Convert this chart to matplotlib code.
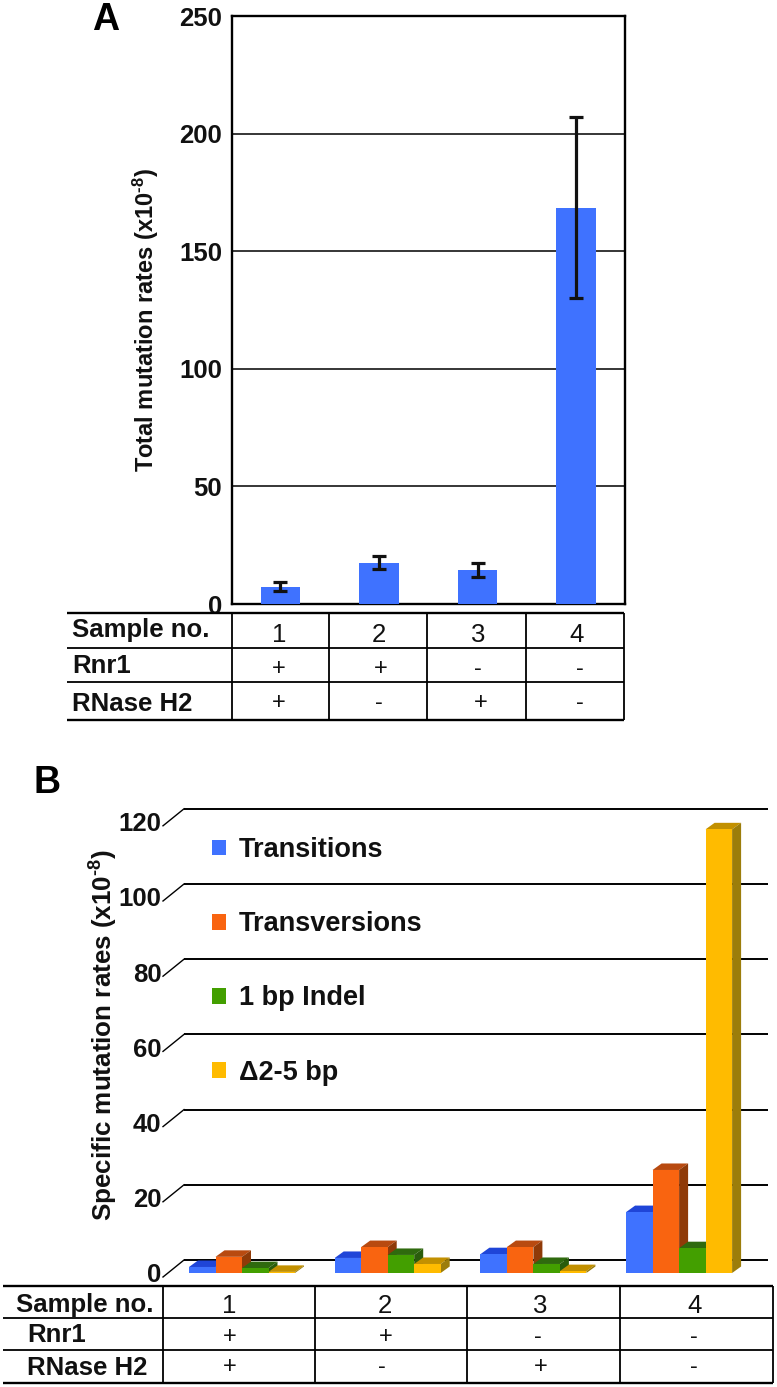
import matplotlib
matplotlib.use("Agg")
import matplotlib.pyplot as plt
from matplotlib.patches import Patch, Polygon

plt.rcParams['font.family'] = ['Liberation Sans', 'DejaVu Sans']
plt.rcParams['mathtext.fontset'] = 'custom'
plt.rcParams['mathtext.rm'] = 'Liberation Sans:bold'
plt.rcParams['mathtext.bf'] = 'Liberation Sans:bold'
plt.rcParams['mathtext.default'] = 'bf'

# ---------- data ----------
samples = [1, 2, 3, 4]
total_rates = [7.2, 17.4, 14.5, 168.5]
total_low = [5.5, 14.9, 11.5, 130.0]
total_high = [9.4, 20.4, 17.4, 207.0]

series_names = ['Transitions', 'Transversions', '1 bp Indel', '\u03942-5 bp']
transitions = [1.6, 4.0, 5.0, 16.2]
transversions = [4.3, 6.9, 6.9, 27.4]
indel_1bp = [1.3, 4.8, 2.4, 6.6]
deletion_2_5 = [0.3, 2.4, 0.5, 118.0]

row_names = ['Sample no.', 'Rnr1', 'RNase H2']
rnr1 = ['+', '+', '-', '-']
rnase_h2 = ['+', '-', '+', '-']

yticks_a = [0, 50, 100, 150, 200, 250]
yticks_b = [0, 20, 40, 60, 80, 100, 120]

# ---------- styles ----------
W, H = 777, 1387
BLUE = '#3f72ff'
front_cols = [BLUE, '#f96410', '#439f00', '#ffbb00']
top_cols = ['#1f45d8', '#b84a10', '#2f6a0e', '#c29000']
side_cols = ['#1b3bb0', '#8f3a08', '#2a5c0c', '#9c7d0a']


def px_axes(left, top, right, bottom):
    return fig.add_axes([left / W, 1 - bottom / H, (right - left) / W, (bottom - top) / H])


fig = plt.figure(figsize=(W / 100, H / 100), dpi=100, facecolor='white')

# ---------- overlay for tables and panel letters ----------
ov = fig.add_axes([0, 0, 1, 1], zorder=5)
ov.set_xlim(0, W)
ov.set_ylim(H, 0)
ov.axis('off')


def table(x_left, col_x, row_y, label_x, label_y, num_x, plus_x, num_y, rows_y):
    ov.hlines(row_y[0], x_left, col_x[-1], color='k', lw=1.7)
    ov.hlines(row_y[1:-1], x_left, col_x[-1], color='k', lw=1.3)
    ov.hlines(row_y[-1], x_left, col_x[-1], color='k', lw=1.7)
    ov.vlines(col_x, row_y[0], row_y[-1], color='k', lw=1.3)
    for name, lx, ly in zip(row_names, label_x, label_y):
        ov.text(lx, ly, name, fontsize=18.5, fontweight='bold', va='center', ha='left', color='#111111')
    for s, x in zip(samples, num_x):
        ov.text(x, num_y, str(s), fontsize=18.5, ha='center', va='center', color='#111111')
    for vals, xs, y in zip([rnr1, rnase_h2], plus_x, rows_y):
        for v, x in zip(vals, xs):
            ov.text(x, y, v, fontsize=17, ha='center', va='center', color='#111111')


table(67, [232, 329, 427, 526, 624], [613, 648, 682, 720],
      [72, 72, 72], [630, 666, 704], [279, 379, 478, 577],
      [[279, 381, 478, 580], [279, 379, 481, 580]], 635, [669, 703])
table(3, [162.5, 315, 467, 620, 773], [1286, 1318, 1350, 1383],
      [16, 27, 27], [1305, 1335, 1368], [229, 385, 540, 695],
      [[230, 386, 538, 694], [230, 382, 541, 694]], 1306, [1337, 1367])

ov.text(92, 20, 'A', fontsize=27, fontweight='bold', va='center', ha='left')
ov.text(34, 783, 'B', fontsize=27, fontweight='bold', va='center', ha='left')

# ---------- panel A ----------
ax = px_axes(232, 16, 625, 604)
ax.set_xlim(0.508, 4.497)
ax.set_ylim(0, 250)
ax.bar(samples, total_rates, width=0.40, color=BLUE, zorder=3)
ax.errorbar(samples, total_rates,
            yerr=[[r - l for r, l in zip(total_rates, total_low)],
                  [h - r for r, h in zip(total_rates, total_high)]],
            fmt='none', ecolor='#111111', elinewidth=2.3, capsize=5, capthick=2.3, zorder=4)
ax.set_yticks(yticks_a)
ax.set_xticks([])
ax.tick_params(axis='y', length=0, pad=7, labelsize=18.5)
for lab in ax.get_yticklabels():
    lab.set_fontweight('bold')
    lab.set_color('#111111')
ax.yaxis.grid(True, color='k', lw=1.1, zorder=0)
ax.set_axisbelow(True)
for sp in ax.spines.values():
    sp.set_linewidth(1.7)
ax.set_ylabel(r'Total mutation rates (x10$^{\text{-}8}$)', fontsize=17, fontweight='bold',
              color='#111111', labelpad=0)
ax.yaxis.set_label_coords((161 - 232) / (625 - 232), 0.483)

# ---------- panel B ----------
PX_X = 145.7          # px per sample
PX_Y = 3.76           # px per rate unit
DX, DY = 9.0 / PX_X, 6.5 / PX_Y   # bar depth in data units
GRID_UP = 13 / PX_Y   # height of the back wall above the floor line
L, R, BOT = 160, 777, 1273
TOP = BOT - 128 * PX_Y
bx = px_axes(L, TOP, R, BOT)
bx.set_xlim(1 + (L - 242) / PX_X, 1 + (R - 242) / PX_X)
bx.set_ylim(0, 128)
for sp in bx.spines.values():
    sp.set_visible(False)
bx.set_xticks([])
bx.set_yticks(yticks_b)
bx.tick_params(axis='y', length=0, pad=-1, labelsize=18.5)
for lab in bx.get_yticklabels():
    lab.set_fontweight('bold')
    lab.set_color('#111111')

grid_x0 = 1 + (184 - 242) / PX_X
grid_x1 = 1 + (768 - 242) / PX_X
tick_x0 = 1 + (163 - 242) / PX_X
for v in yticks_b:
    bx.plot([grid_x0, grid_x1], [v + GRID_UP, v + GRID_UP], color='k', lw=1.4, zorder=1,
            clip_on=False, solid_capstyle='butt')
    bx.plot([tick_x0, grid_x0], [v - 4 / PX_Y, v + GRID_UP], color='k', lw=1.0, zorder=1,
            clip_on=False)

all_series = [transitions, transversions, indel_1bp, deletion_2_5]
bw = 26.5 / PX_X
for g, s in enumerate(samples):
    for k, series in enumerate(all_series):
        v = series[g]
        x0 = s + (k - 2) * bw
        x1 = x0 + bw
        bx.add_patch(Polygon([(x0, v), (x0 + DX, v + DY), (x1 + DX, v + DY), (x1, v)],
                             closed=True, fc=top_cols[k], ec='none', zorder=2 + g + k * 0.1))
        bx.add_patch(Polygon([(x1, 0), (x1 + DX, DY), (x1 + DX, v + DY), (x1, v)],
                             closed=True, fc=side_cols[k], ec='none', zorder=2 + g + k * 0.1))
        bx.bar(x0, v, width=bw, align='edge', color=front_cols[k], zorder=2.05 + g + k * 0.1)

bx.set_ylabel(r'Specific mutation rates (x10$^{\text{-}8}$)', fontsize=18.7, fontweight='bold',
              color='#111111', labelpad=0)
bx.yaxis.set_label_coords((120 - L) / (R - L), (BOT - 1035) / (BOT - TOP))

handles = [Patch(fc=c, ec='none') for c in front_cols]
leg = bx.legend(handles, series_names, loc='upper left', frameon=False,
                bbox_to_anchor=((212 - L) / (R - L), (BOT - 837) / (BOT - TOP)),
                borderaxespad=0, borderpad=0, fontsize=19.5, handlelength=0.52, handleheight=0.52,
                handletextpad=0.48, labelspacing=1.78)
for t in leg.get_texts():
    t.set_fontweight('bold')
    t.set_color('#111111')

fig.savefig('out.png', dpi=100)
